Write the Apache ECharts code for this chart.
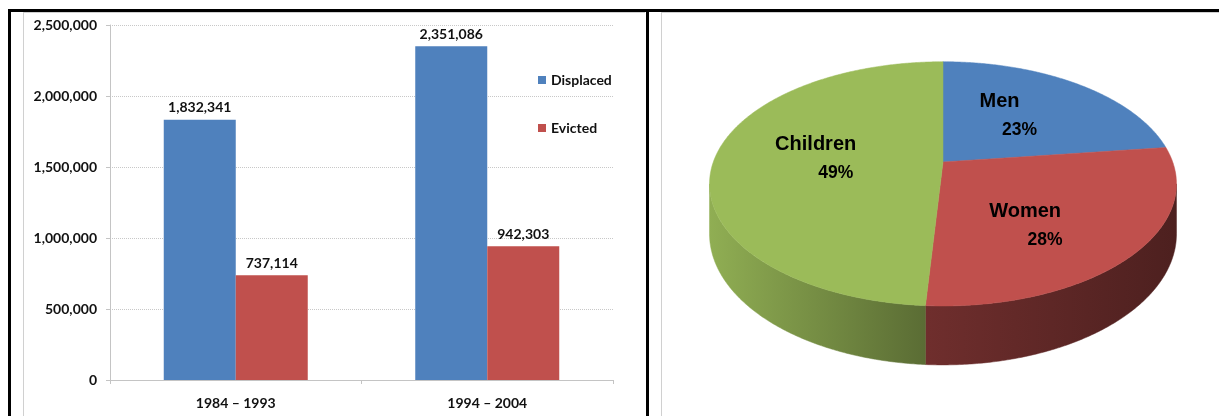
<!DOCTYPE html>
<html>
<head>
<meta charset="utf-8">
<script src="https://cdn.jsdelivr.net/npm/echarts@6/dist/echarts.min.js"></script>
<style>
html,body{margin:0;padding:0;background:#fff;}
#c{width:1219px;height:416px;}
</style>
</head>
<body>
<div id="c"></div>
<script>
// ---- data ----
const barCategories = ['1984 – 1993', '1994 – 2004'];
const displacedValues = [1832341, 2351086];
const evictedValues = [737114, 942303];
const barSeriesNames = ['Displaced', 'Evicted'];
const pieNames = ['Men', 'Women', 'Children'];
const pieValues = [23, 28, 49];

// ---- styles / layout ----
const barColors = ['#4f81bd', '#c0504d'];
const pieColors = ['#4f81bd', '#c0504d', '#9bbb59'];
const barFont = 'Lato';
const pieFont = 'Liberation Sans';

// perspective projection of a tilted disc (3D pie)
const P = { cx: 943, cy: 162, A: 229.7, B: 118.2, k: 0.179, D: 48.4 };
const TAU = Math.PI * 2;
function proj(theta, r) {
  const u = r * Math.sin(theta), v = r * Math.cos(theta);
  const w = 1 + P.k * v;
  return [P.cx + P.A * u / w, P.cy - P.B * v / w];
}
function projBottom(theta) {
  const w = 1 + P.k * Math.cos(theta);
  const p = proj(theta, 1);
  return [p[0], p[1] + P.D / w];
}
function scrAng(phi) {
  const p = proj(phi, 1);
  const a = Math.atan2(p[0] - P.cx, P.cy - p[1]);
  let d = a - phi;
  d = d - TAU * Math.round(d / TAU);
  return phi + d;
}
function shade(hex, f) {
  const n = parseInt(hex.slice(1), 16);
  const r = Math.round(((n >> 16) & 255) * f), g = Math.round(((n >> 8) & 255) * f), b = Math.round((n & 255) * f);
  return 'rgb(' + r + ',' + g + ',' + b + ')';
}
const pieTotal = pieValues.reduce((a, b) => a + b, 0);
const silA = Math.acos(-P.k), silB = TAU - silA;
const leftX = proj(TAU - silA, 1)[0], rightX = proj(silA, 1)[0];

function renderPie(params, api) {
  const i = params.dataIndex;
  let start = 0;
  for (let j = 0; j < i; j++) start += pieValues[j];
  const val = api.value(0);
  const a0 = start / pieTotal * TAU, a1 = (start + val) / pieTotal * TAU;
  const col = pieColors[i % pieColors.length];
  const children = [];
  const step = Math.PI / 360;
  // top face
  const top = [[P.cx, P.cy]];
  const n = Math.max(2, Math.ceil((a1 - a0) / step));
  for (let s = 0; s <= n; s++) top.push(proj(a0 + (a1 - a0) * s / n, 1));
  children.push({ type: 'polygon', shape: { points: top }, style: { fill: col, stroke: col, lineWidth: 0.5 }, z2: 10 });
  // visible side wall
  const b0 = Math.max(a0, silA), b1 = Math.min(a1, silB);
  if (b1 > b0) {
    const m = Math.max(2, Math.ceil((b1 - b0) / step));
    const pts = [];
    for (let s = 0; s <= m; s++) pts.push(proj(b0 + (b1 - b0) * s / m, 1));
    for (let s = m; s >= 0; s--) pts.push(projBottom(b0 + (b1 - b0) * s / m));
    const grad = {
      type: 'linear', x: leftX, y: 0, x2: rightX, y2: 0, global: true,
      colorStops: [
        { offset: 0, color: shade(col, 0.93) },
        { offset: 0.465, color: shade(col, 0.58) },
        { offset: 1, color: shade(col, 0.4) }
      ]
    };
    children.push({ type: 'polygon', shape: { points: pts }, style: { fill: grad, stroke: grad, lineWidth: 0.5 }, z2: 2 });
  }
  // label
  const sA0 = scrAng(a0), sA1 = scrAng(a1), mid = (a0 + a1) / 2;
  const target = ((sA0 + sA1) / 2 + scrAng(mid)) / 2;
  let lo = a0, hi = a1;
  for (let it = 0; it < 40; it++) {
    const mm = (lo + hi) / 2;
    if (scrAng(mm) < target) lo = mm; else hi = mm;
  }
  const rim = proj((lo + hi) / 2, 1);
  const ax = P.cx + 0.55 * (rim[0] - P.cx) + 7, ay = P.cy + 0.55 * (rim[1] - P.cy) + 2;
  children.push({ type: 'text', x: ax - 10, y: ay - 15, z2: 30,
    style: { text: pieNames[i], fontFamily: pieFont, fontWeight: 'bold', fontSize: 20, fill: '#000', align: 'center', verticalAlign: 'middle' } });
  children.push({ type: 'text', x: ax + 10, y: ay + 14, z2: 30,
    style: { text: Math.round(val / pieTotal * 100) + '%', fontFamily: pieFont, fontWeight: 'bold', fontSize: 17.5, fill: '#000', align: 'center', verticalAlign: 'middle' } });
  return { type: 'group', children: children };
}

const chart = echarts.init(document.getElementById('c'), null, { renderer: 'canvas' });
const labelStyle = { show: true, position: 'top', distance: 5, fontFamily: barFont, fontWeight: 'bold', fontSize: 14, color: '#111',
  formatter: p => p.value.toLocaleString('en-US') };

chart.setOption({
  animation: false,
  backgroundColor: '#fff',
  grid: { left: 110, right: 606, top: 25, bottom: 36, containLabel: false },
  legend: {
    data: barSeriesNames, orient: 'vertical', left: 538, top: 73, padding: 0, icon: 'rect', itemWidth: 8, itemHeight: 8, itemGap: 34,
    textStyle: { fontFamily: barFont, fontWeight: 'bold', fontSize: 14, color: '#111', padding: [0, 0, 0, 0] }
  },
  xAxis: {
    type: 'category', data: barCategories,
    axisLine: { lineStyle: { color: '#c4c4c4', width: 1 } },
    axisTick: { show: true, length: 4, lineStyle: { color: '#c4c4c4' } },
    axisLabel: { margin: 16, fontFamily: barFont, fontWeight: 'bold', fontSize: 14, color: '#111' }
  },
  yAxis: {
    type: 'value', min: 0, max: 2500000, interval: 500000,
    axisLine: { show: true, lineStyle: { color: '#c4c4c4', width: 1 } },
    axisTick: { show: true, length: 4, lineStyle: { color: '#c4c4c4' } },
    splitLine: { lineStyle: { color: '#c8c8c8', type: [1, 1] } },
    axisLabel: { margin: 13, fontFamily: barFont, fontWeight: 'bold', fontSize: 14, color: '#111',
      formatter: v => v.toLocaleString('en-US') }
  },
  series: [
    { name: barSeriesNames[0], type: 'bar', data: displacedValues, barWidth: 72, barGap: '0%', itemStyle: { color: barColors[0] }, label: labelStyle },
    { name: barSeriesNames[1], type: 'bar', data: evictedValues, barWidth: 72, barGap: '0%', itemStyle: { color: barColors[1] }, label: labelStyle },
    { name: 'Population', type: 'custom', coordinateSystem: 'none', data: pieValues.map(v => [v]), renderItem: renderPie, silent: true }
  ],
  graphic: [
    { type: 'rect', shape: { x: 8, y: 9, width: 1211, height: 3 }, style: { fill: '#000' }, z: 100 },
    { type: 'rect', shape: { x: 8, y: 9, width: 3, height: 407 }, style: { fill: '#000' }, z: 100 },
    { type: 'rect', shape: { x: 646, y: 9, width: 3, height: 407 }, style: { fill: '#000' }, z: 100 },
    { type: 'line', shape: { x1: 23.5, y1: 12, x2: 23.5, y2: 416 }, style: { stroke: '#d0d0d0', lineWidth: 1 }, z: 99 },
    { type: 'line', shape: { x1: 23, y1: 12.5, x2: 645, y2: 12.5 }, style: { stroke: '#d0d0d0', lineWidth: 1 }, z: 99 },
    { type: 'line', shape: { x1: 661.5, y1: 12, x2: 661.5, y2: 416 }, style: { stroke: '#d0d0d0', lineWidth: 1 }, z: 99 },
    { type: 'line', shape: { x1: 661, y1: 12.5, x2: 1219, y2: 12.5 }, style: { stroke: '#d0d0d0', lineWidth: 1 }, z: 99 }
  ]
});
</script>
</body>
</html>
